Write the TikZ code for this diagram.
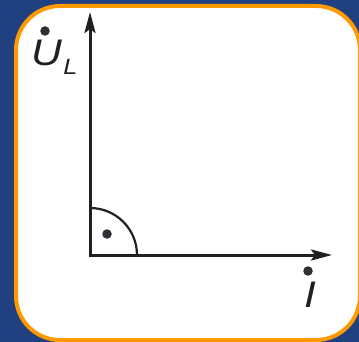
\documentclass[tikz,border=0pt]{standalone}
\usepackage{fontspec}
\setmainfont{Liberation Sans}
\newfontfamily\labelfont[FakeStretch=1.15]{Liberation Sans}
\usetikzlibrary{arrows.meta}
\definecolor{bgblue}{RGB}{32,64,128}
\definecolor{frameorange}{RGB}{255,153,0}
\definecolor{axisdark}{RGB}{35,31,32}
\definecolor{dotgray}{RGB}{45,48,52}
\tikzset{
  axis/.style={line width=3pt, draw=axisdark, -{Stealth[length=21pt,width=11pt,inset=4pt]}},
  anglearc/.style={line width=2.2pt, draw=axisdark},
  phasordot/.style={circle, fill=dotgray, inner sep=0pt, minimum size=9.5pt},
  biglabel/.style={inner sep=0pt, font=\labelfont\fontsize{37}{37}\selectfont\itshape, text=axisdark},
  sublabel/.style={inner sep=0pt, font=\labelfont\fontsize{22}{22}\selectfont\itshape, text=axisdark},
}
\begin{document}
\begin{tikzpicture}[x=1pt,y=-1pt]
\useasboundingbox (0,0) rectangle (359,342);
\clip (0,0) rectangle (359,342);
\fill[bgblue] (0,0) rectangle (359,342);
\draw[fill=white, draw=frameorange, line width=4pt, rounded corners=44pt] (16,6) rectangle (360,340);
% axes
\coordinate (O) at (90,255);
\coordinate (ytip) at (90,12);
\coordinate (xtip) at (332,255);
\draw[axis] ([yshift=-1.5pt]O) -- (ytip);
\draw[axis] ([xshift=-1.5pt]O) -- (xtip);
% right angle arc
\draw[anglearc] (137,255) arc[start angle=0, end angle=-90, radius=47];
\node[phasordot] (adot) at (107,234) {};
% labels
\node[biglabel, anchor=base] (U) at (46.5,65.5) {U};
\node[sublabel, anchor=base west] (L) at (U.base east) [xshift=1pt, yshift=-9.5pt] {L};
\node[phasordot] (udot) at (45,31) {};
\node[biglabel, anchor=base] (I) at (310,307.5) {I};
\node[phasordot] (idot) at (308,271) {};
\end{tikzpicture}
\end{document}
